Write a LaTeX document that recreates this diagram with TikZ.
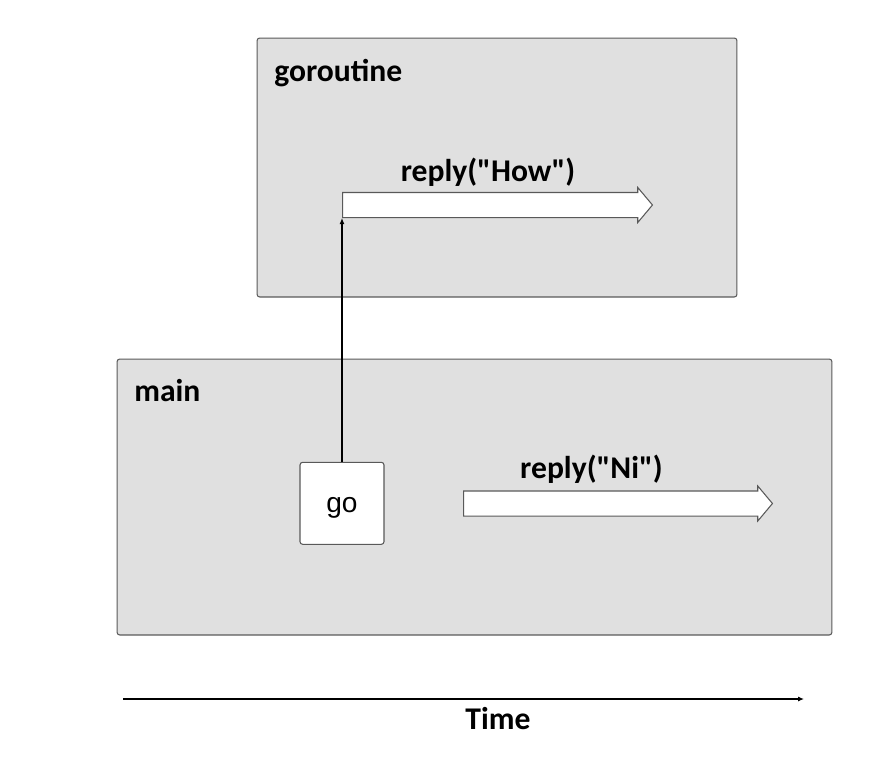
\documentclass[tikz,border=0pt]{standalone}
\usepackage{fontspec}
\setmainfont{Carlito}
\newfontfamily\arialfont{Liberation Sans}
\usetikzlibrary{shapes.arrows, arrows.meta, positioning}
\definecolor{lanegray}{HTML}{E0E0E0}
\definecolor{edgegray}{HTML}{595959}
\tikzset{
    lane/.style={
        rectangle,
        draw=edgegray,
        line width=0.6pt,
        rounded corners=1.5pt,
        fill=lanegray
    },
    lanelabel/.style={
        font=\fontsize{18}{20}\selectfont\bfseries,
        anchor=base west,
        inner sep=0pt
    },
    callarrow/.style={
        single arrow,
        draw=edgegray,
        line width=0.6pt,
        fill=white,
        inner xsep=0pt,
        inner ysep=0.24cm,
        minimum width=0.68cm,
        single arrow head extend=0.1cm,
        single arrow tip angle=100,
        minimum height=6.2cm,
        anchor=tail
    },
    calllabel/.style={
        font=\fontsize{18}{20}\selectfont\bfseries,
        anchor=base,
        inner sep=0pt
    },
    gobox/.style={
        rectangle,
        draw=edgegray,
        line width=0.6pt,
        rounded corners=1.5pt,
        fill=white,
        minimum width=1.68cm,
        minimum height=1.64cm,
        text height=0.36cm,
        text depth=0pt,
        font=\arialfont\fontsize{16}{18}\selectfont
    },
    spawn/.style={
        draw=black,
        line width=0.6pt,
        -{Latex[length=0.12cm, width=0.1cm]}
    }
}

\begin{document}
\begin{tikzpicture}[x=0.02cm, y=-0.02cm]
\useasboundingbox (0,0) rectangle (876,758);

% Goroutine lane
\node[lane, minimum width=9.6cm, minimum height=5.18cm] (gor) at (497,167.5) {};
\node[lanelabel] (gorlabel) at (274,81) {goroutine};
\node[callarrow] (how) at (342,205) {};
\node[calllabel] (howlabel) at (488,181) {reply(\textquotedbl How\textquotedbl)};

% Main lane
\node[lane, minimum width=14.3cm, minimum height=5.52cm] (mainlane) at (474.5,497) {};
\node[lanelabel] (mainlabel) at (134,401) {main};
\node[gobox] (go) at (342,503.3) {go};
\node[callarrow, minimum height=6.18cm] (ni) at (463,503.5) {};
\node[calllabel] (nilabel) at (591.5,478) {reply(\textquotedbl Ni\textquotedbl)};

% Spawn
\draw[spawn] (go.north) -- (go.north |- how.south);

% Time axis
\coordinate (t0) at (123,699);
\coordinate (t1) at (804,699);
\draw[spawn] (t0) -- (t1);
\node[calllabel] (timelabel) at (498,729) {Time};

\end{tikzpicture}
\end{document}
